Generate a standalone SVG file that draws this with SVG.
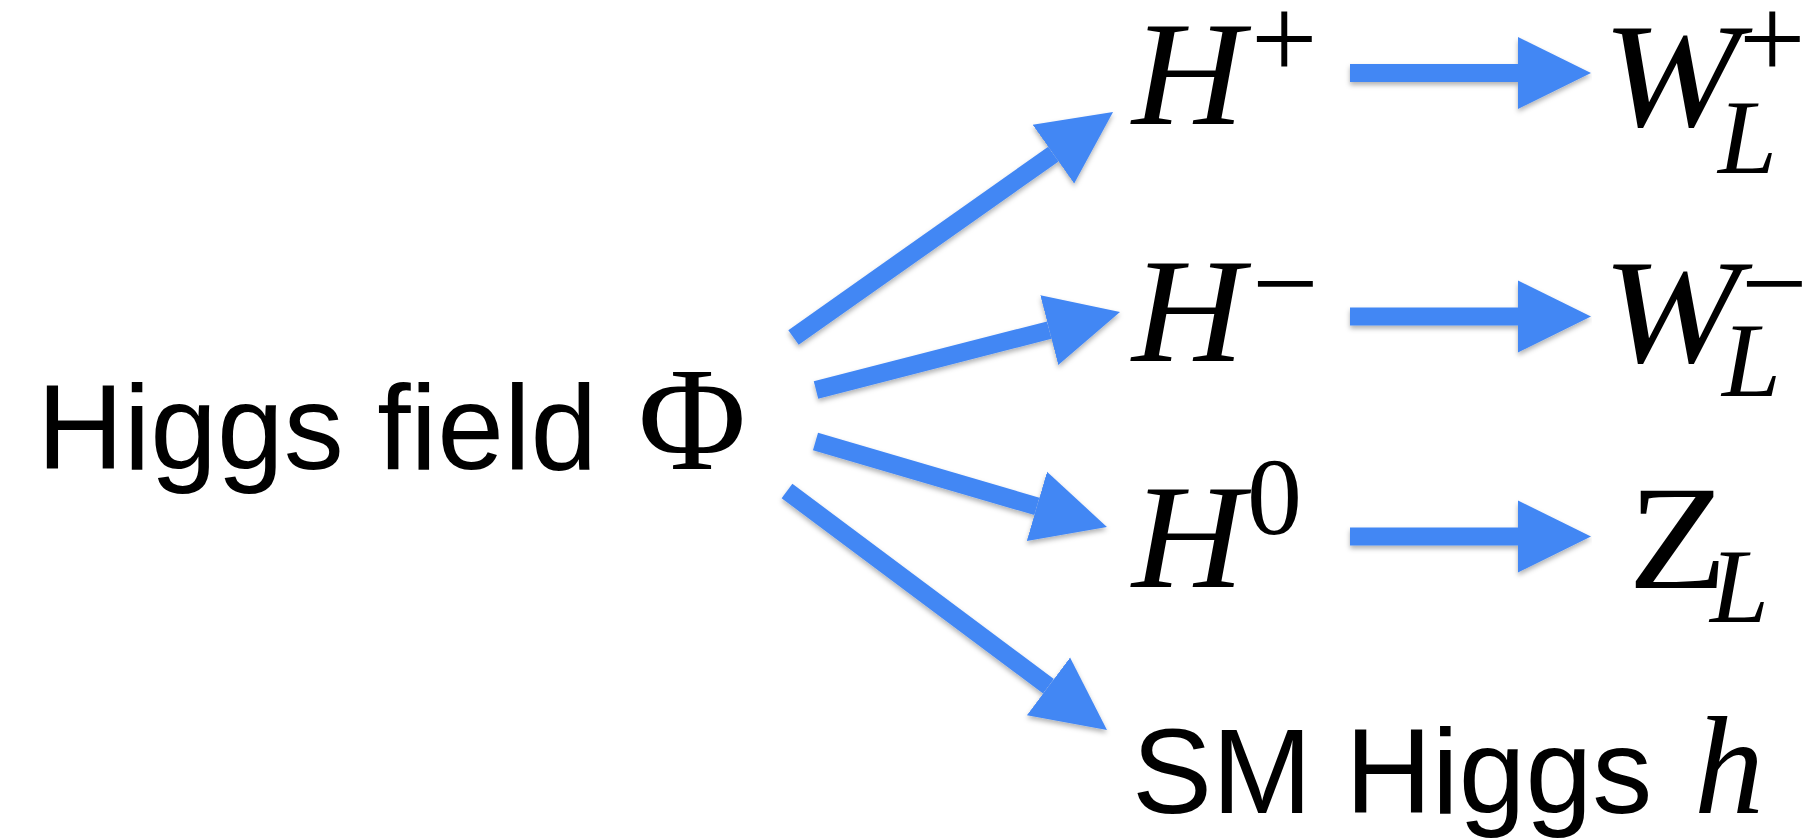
<svg xmlns="http://www.w3.org/2000/svg" width="1808" height="840" viewBox="0 0 1808 840">
<style>
.sans{font-family:"Liberation Sans",Arial,sans-serif;font-size:120px;fill:#000}
.m{font-family:"Liberation Serif","Times New Roman",serif;fill:#000;font-size:148px}
.it{font-style:italic}
.sup{font-size:118px}
.sub{font-size:106px;font-style:italic}
.zero{font-size:110px}
.arr{stroke:#4387F4;stroke-width:18;fill:none;marker-end:url(#head)}
</style>
<defs>
<marker id="head" markerUnits="userSpaceOnUse" markerWidth="80" markerHeight="80" refX="0" refY="40" orient="auto" viewBox="0 0 80 80">
<path d="M0,4 L73,40 L0,76 Z" fill="#4387F4"/>
</marker>
<filter id="sh" x="-10%" y="-10%" width="120%" height="130%">
<feDropShadow dx="0" dy="3" stdDeviation="2.5" flood-color="#000" flood-opacity="0.3"/>
</filter>
</defs>
<rect width="1808" height="840" fill="#fff"/>
<g id="connectors" filter="url(#sh)">
<line class="arr" x1="793.5" y1="337.5" x2="1053.4" y2="154.1"/>
<line class="arr" x1="816" y1="390" x2="1049.3" y2="330.1"/>
<line class="arr" x1="815.5" y1="441.5" x2="1036.9" y2="506.4"/>
<line class="arr" x1="787" y1="491" x2="1048.5" y2="686.3"/>
<line class="arr" x1="1350" y1="73" x2="1518" y2="73"/>
<line class="arr" x1="1350" y1="316.5" x2="1518" y2="316.5"/>
<line class="arr" x1="1350" y1="536.5" x2="1518" y2="536.5"/>
</g>
<g id="higgs-field">
<text class="sans" x="37" y="469">Higgs field</text>
<text class="m" x="638" y="469">Φ</text>
</g>
<g id="H-plus">
<text class="m it" transform="translate(1132,124) scale(1.05,1)">H</text>
<text class="m sup" x="1251" y="79">+</text>
</g>
<g id="H-minus">
<text class="m it" transform="translate(1132,361) scale(1.05,1)">H</text>
<text class="m sup" x="1252" y="323">−</text>
</g>
<g id="H-zero">
<text class="m it" transform="translate(1132,587) scale(1.05,1)">H</text>
<text class="m zero" x="1247" y="534">0</text>
</g>
<g id="SM-higgs">
<text class="sans" x="1132" y="813">SM Higgs</text>
<text class="m it" x="1694" y="813" style="font-size:140px">h</text>
</g>
<g id="W-plus">
<text class="m it" transform="translate(1602,126) scale(1.12,1)">W</text>
<text class="m sup" x="1739" y="79">+</text>
<text class="m sub" x="1718" y="173">L</text>
</g>
<g id="W-minus">
<text class="m it" transform="translate(1602,362) scale(1.12,1)">W</text>
<text class="m sup" x="1741" y="323">−</text>
<text class="m sub" x="1722" y="396">L</text>
</g>
<g id="Z-L">
<text class="m" transform="translate(1628,588) scale(1.1,1)">Z</text>
<text class="m sub" x="1710" y="622">L</text>
</g>
</svg>
